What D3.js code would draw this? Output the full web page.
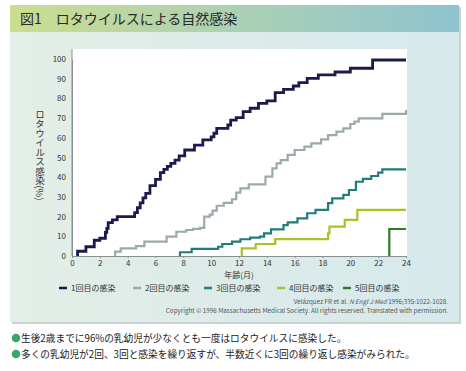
<!DOCTYPE html>
<html>
<head>
<meta charset="utf-8">
<script src="https://cdn.jsdelivr.net/npm/d3@7"></script>
<style>
  body { margin: 0; background: #fff; }
  svg text { font-family: "Noto Sans CJK JP", "Noto Sans", sans-serif; }
</style>
</head>
<body>
<script>
// data: [month, cumulative %] step points
var first = [[0.4,0],[0.4,2.4],[1.0,4.7],[1.6,8],[2.0,9],[2.4,12],[2.5,14],[2.6,16.9],[2.9,18.3],[3.25,20],[4.3,20],
  [4.5,22],[4.7,24.5],[4.9,27],[5.1,29.5],[5.3,31.8],[5.6,35.7],[6.0,38.9],[6.35,42.3],[6.6,44],[6.85,45.5],[7.1,47],
  [7.4,48.7],[7.7,50.8],[8.1,53.8],[8.8,56.3],[9.4,58.9],[10.0,60.5],[10.2,62.3],[10.4,64.8],[11.2,66.5],[11.4,69],
  [11.8,70.2],[12.3,73.3],[12.8,75],[13.4,77.5],[14.0,78.7],[14.6,82.9],[15.2,84.6],[15.9,86.3],[16.3,88],[16.9,90.2],
  [17.7,91.9],[18.9,93.4],[20.0,95.3],[21.6,99.5],[24,99.5]];
var second = [[3.1,0],[3.1,2.2],[3.5,3.9],[4.6,5],[5.2,7.3],[6.8,9.8],[7.5,12.3],[8.2,13.2],[8.7,13.8],[9.2,14.3],
  [9.5,20],[9.9,21],[10.1,23],[10.4,25.5],[10.9,27],[11.5,28.8],[11.8,32.2],[12.1,34.3],[12.7,36.4],[13.9,40.3],
  [14.4,44.5],[14.7,47],[15.0,48.7],[15.5,51.3],[16.0,53.8],[16.7,55.5],[17.2,57.2],[17.9,59.2],[18.4,61.4],
  [19.0,63.1],[19.5,64.8],[20.0,67],[20.3,68.2],[20.6,69.9],[22.3,72.1],[24,74.1]];
var third = [[7.76,0],[7.76,1.9],[8.6,3.6],[10.5,4.7],[10.8,6.1],[11.5,7.3],[12.1,8.5],[12.8,9.3],[13.5,9.8],
  [13.8,11.5],[14.3,13.5],[15.2,15.7],[15.5,17.1],[16.2,19.1],[16.9,21.7],[17.5,23.4],[18.4,26.8],[18.7,29.3],
  [19.5,31],[19.9,33.5],[20.4,37.7],[20.9,39.1],[21.5,40.6],[22.0,42.3],[22.3,44],[24,44]];
var fourth = [[12.2,0],[12.2,3.9],[13.2,6.1],[14.6,8.6],[18.4,11.5],[18.5,14.9],[19.6,18.3],[20.5,23.4],[24,23.4]];
var fifth = [[22.8,0],[22.8,13.7],[24,13.7]];

var seriesNames = ["1回目の感染", "2回目の感染", "3回目の感染", "4回目の感染", "5回目の感染"];
var seriesColors = ["#1b1a4e", "#9aaba3", "#1f7d7a", "#a9c227", "#2e7d25"];
var xTicks = [0,2,4,6,8,10,12,14,16,18,20,22,24];
var yTicks = [0,10,20,30,40,50,60,70,80,90,100];

var W = 466, H = 371;
var svg = d3.select("body").append("svg").attr("width", W).attr("height", H);

// panel background
var defs = svg.append("defs");
var bg = defs.append("linearGradient").attr("id", "bg").attr("x1", "0").attr("x2", "1");
bg.append("stop").attr("offset", "0").attr("stop-color", "#e3eee6");
bg.append("stop").attr("offset", "1").attr("stop-color", "#d6e9ec");
var hd = defs.append("linearGradient").attr("id", "hd").attr("x1", "0").attr("x2", "1");
hd.append("stop").attr("offset", "0").attr("stop-color", "#cbdd8e");
hd.append("stop").attr("offset", "0.5").attr("stop-color", "#acd0b4");
hd.append("stop").attr("offset", "1").attr("stop-color", "#8ec3cf");

svg.append("rect").attr("x", 12).attr("y", 7).attr("width", 449).attr("height", 317).attr("fill", "#c9d3d3");
svg.append("rect").attr("x", 10).attr("y", 5).attr("width", 449).attr("height", 317).attr("fill", "url(#bg)");
svg.append("rect").attr("x", 10).attr("y", 5).attr("width", 449).attr("height", 27).attr("fill", "url(#hd)");
svg.append("text").attr("x", 20).attr("y", 24).attr("font-size", 14).attr("fill", "#2a2a2a")
  .text("図1　ロタウイルスによる自然感染");

// plot
var x = d3.scaleLinear().domain([0, 24]).range([72, 406]);
var y = d3.scaleLinear().domain([0, 100]).range([256, 59]);

svg.append("rect").attr("x", 72).attr("y", 49).attr("width", 335).attr("height", 207).attr("fill", "#fff");

var xAxis = svg.append("g").attr("transform", "translate(0,256)")
  .call(d3.axisBottom(x).tickValues(xTicks).tickSize(2).tickPadding(2));
var yAxis = svg.append("g").attr("transform", "translate(72,0)")
  .call(d3.axisLeft(y).tickValues(yTicks).tickSize(0).tickPadding(6));
[xAxis, yAxis].forEach(function(a) {
  a.select(".domain").attr("stroke", "#8a9090").attr("stroke-width", 1);
  a.selectAll(".tick line").attr("stroke", "#8a9090");
  a.selectAll("text").attr("font-size", 8).attr("fill", "#333");
});
// y axis line extends to top of white area
svg.append("line").attr("x1", 72).attr("x2", 72).attr("y1", 49).attr("y2", 256).attr("stroke", "#8a9090");

var line = d3.line().x(function(d) { return x(d[0]); }).y(function(d) { return y(d[1]); })
  .curve(d3.curveStepAfter);
var all = [first, second, third, fourth, fifth];
all.forEach(function(s, i) {
  svg.append("path").datum(s).attr("d", line).attr("fill", "none")
    .attr("stroke", seriesColors[i]).attr("stroke-width", i == 0 ? 2.8 : 2.2);
});

// axis titles
svg.append("text").attr("x", 239).attr("y", 278).attr("text-anchor", "middle")
  .attr("font-size", 8).attr("fill", "#333").text("年齢(月)");
svg.append("text").attr("x", 40).attr("y", 155).attr("text-anchor", "middle")
  .style("writing-mode", "vertical-rl").attr("font-size", 9.5).attr("fill", "#333")
  .text("ロタウイルス感染(%)");

// legend
var legX = [59, 133, 204, 277, 343];
var leg = svg.selectAll(".legend").data(seriesNames).enter().append("g")
  .attr("class", "legend")
  .attr("transform", function(d, i) { return "translate(" + legX[i] + ",288)"; });
leg.append("line").attr("x1", 0).attr("x2", 8).attr("stroke", function(d, i) { return seriesColors[i]; })
  .attr("stroke-width", 2.5);
leg.append("text").attr("x", 12).attr("y", 3).attr("font-size", 8).attr("fill", "#333")
  .text(function(d) { return d; });

// citation
var cite = svg.append("text").attr("x", 448).attr("y", 304).attr("text-anchor", "end")
  .attr("font-size", 6.3).attr("fill", "#555");
cite.append("tspan").text("Velázquez FR et al. ");
cite.append("tspan").attr("font-style", "italic").text("N Engl J Med");
cite.append("tspan").text(" 1996;335:1022-1028.");
svg.append("text").attr("x", 448).attr("y", 313).attr("text-anchor", "end")
  .attr("font-size", 6.3).attr("fill", "#555")
  .text("Copyright © 1996 Massachusetts Medical Society. All rights reserved. Translated with permission.");

// notes
var notes = ["生後2歳までに96%の乳幼児が少なくとも一度はロタウイルスに感染した。",
  "多くの乳幼児が2回、3回と感染を繰り返すが、半数近くに3回の繰り返し感染がみられた。"];
notes.forEach(function(t, i) {
  svg.append("circle").attr("cx", 16).attr("cy", 338 + i * 16).attr("r", 4.3).attr("fill", "#3aa56a");
  svg.append("text").attr("x", 21).attr("y", 342 + i * 16).attr("font-size", 9.7).attr("fill", "#222").text(t);
});
</script>
</body>
</html>
